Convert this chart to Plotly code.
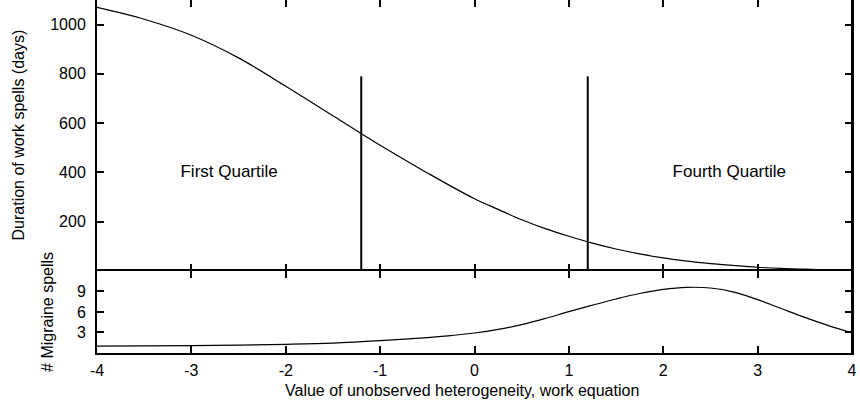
import plotly.graph_objects as go
from plotly.subplots import make_subplots

# ---- data ----
x_work = [-4, -3.5, -3, -2.5, -2, -1.5, -1, -0.5, 0, 0.25, 0.5, 0.75, 1, 1.25, 1.5,
          1.75, 2, 2.25, 2.5, 2.75, 3, 3.25, 3.5, 3.75, 4]
duration_days = [1070, 1022, 957, 865, 750, 630, 510, 398, 293, 250, 208, 172, 141, 113, 89,
                 69, 53, 40, 30, 22, 15, 10, 7, 4.5, 3]

x_mig = [-4, -3.5, -3, -2.5, -2, -1.5, -1, -0.5, -0.25, 0, 0.25, 0.5, 0.75, 1, 1.25, 1.5,
         1.75, 2, 2.25, 2.5, 2.75, 3, 3.25, 3.5, 3.75, 4]
migraine_spells = [1.0, 1.03, 1.08, 1.15, 1.27, 1.45, 1.8, 2.25, 2.55, 2.92, 3.45, 4.15, 5.05, 6.05, 7.0, 7.9,
                   8.7, 9.3, 9.6, 9.5, 8.9, 7.8, 6.5, 5.2, 4.0, 2.95]

quartile_x = [-1.2, 1.2]
quartile_top = 790
quartile_labels = ["First Quartile", "Fourth Quartile"]
quartile_label_x = [-2.6, 2.7]
quartile_label_y = 400

x_ticks = [-4, -3, -2, -1, 0, 1, 2, 3, 4]
x_ticktext = ["-4", "-3", "-2", "-1", "0", "1", "2", "3", "4"]
top_yticks = [200, 400, 600, 800, 1000]
bot_yticks = [3, 6, 9]

FONT = "Liberation Sans, Arial, Helvetica, sans-serif"
BLACK = "#000000"

fig = make_subplots(rows=2, cols=1, shared_xaxes=True, vertical_spacing=0,
                    row_heights=[0.7675, 0.2325])

fig.add_trace(go.Scatter(x=x_work, y=duration_days, mode="lines",
                         line=dict(color=BLACK, width=1.2, shape="spline", smoothing=1),
                         showlegend=False, hoverinfo="skip"), row=1, col=1)

for qx in quartile_x:
    fig.add_trace(go.Scatter(x=[qx, qx], y=[0, quartile_top], mode="lines",
                             line=dict(color=BLACK, width=2),
                             showlegend=False, hoverinfo="skip"), row=1, col=1)

fig.add_trace(go.Scatter(x=quartile_label_x, y=[quartile_label_y] * 2, mode="text",
                         text=quartile_labels, textposition="middle center",
                         textfont=dict(family=FONT, size=17, color=BLACK),
                         showlegend=False, hoverinfo="skip"), row=1, col=1)

fig.add_trace(go.Scatter(x=x_mig, y=migraine_spells, mode="lines",
                         line=dict(color=BLACK, width=1.2, shape="spline", smoothing=1),
                         showlegend=False, hoverinfo="skip"), row=2, col=1)

common_x = dict(range=[-4, 4], tickvals=x_ticks, ticktext=x_ticktext,
                ticks="inside", ticklen=7, tickwidth=1.5, tickcolor=BLACK,
                showgrid=False, zeroline=False, linecolor=BLACK, linewidth=2)

fig.update_xaxes(**common_x, showline=False, mirror="ticks", showticklabels=False, row=1, col=1)
fig.update_xaxes(**common_x, showline=True, mirror="allticks", showticklabels=True,
                 ticklabelstandoff=2, tickfont=dict(family=FONT, size=16, color=BLACK),
                 row=2, col=1)

common_y = dict(ticks="inside", ticklen=7, tickwidth=1.5, tickcolor=BLACK,
                showgrid=False, zeroline=False, showline=True, linecolor=BLACK,
                linewidth=2, mirror="allticks", ticklabelstandoff=6,
                tickfont=dict(family=FONT, size=16, color=BLACK))
fig.update_yaxes(**common_y, range=[0, 1100], tickvals=top_yticks, row=1, col=1)
fig.update_yaxes(**common_y, range=[0, 12], tickvals=bot_yticks, row=2, col=1)

# right-hand frame edge (paper-referenced so it is never clipped)
fig.add_shape(type="line", xref="paper", yref="paper", x0=1, x1=1, y0=0, y1=1,
              line=dict(color=BLACK, width=2), layer="above")

fig.add_annotation(text="Duration of work spells (days)", xref="paper", yref="paper",
                   x=0, y=0.2325 + 0.7675 / 2, xshift=-79, textangle=-90,
                   showarrow=False, xanchor="center", yanchor="middle",
                   font=dict(family=FONT, size=16, color=BLACK))
fig.add_annotation(text="# Migraine spells", xref="paper", yref="paper",
                   x=0, y=0.2325 / 2, xshift=-49, textangle=-90,
                   showarrow=False, xanchor="center", yanchor="middle",
                   font=dict(family=FONT, size=16, color=BLACK))
fig.add_annotation(text="Value of unobserved heterogeneity, work equation",
                   xref="paper", yref="paper", x=0.484, y=0, yshift=-37,
                   showarrow=False, xanchor="center", yanchor="middle",
                   font=dict(family=FONT, size=16, color=BLACK))

fig.update_layout(width=860, height=410,
                  margin=dict(l=97, r=8, t=0, b=57),
                  plot_bgcolor="white", paper_bgcolor="white",
                  font=dict(family=FONT, size=16, color=BLACK))

fig.write_html("out.html", config={"displayModeBar": False},
               post_script="document.body.style.margin='0';document.body.style.overflow='hidden';")
